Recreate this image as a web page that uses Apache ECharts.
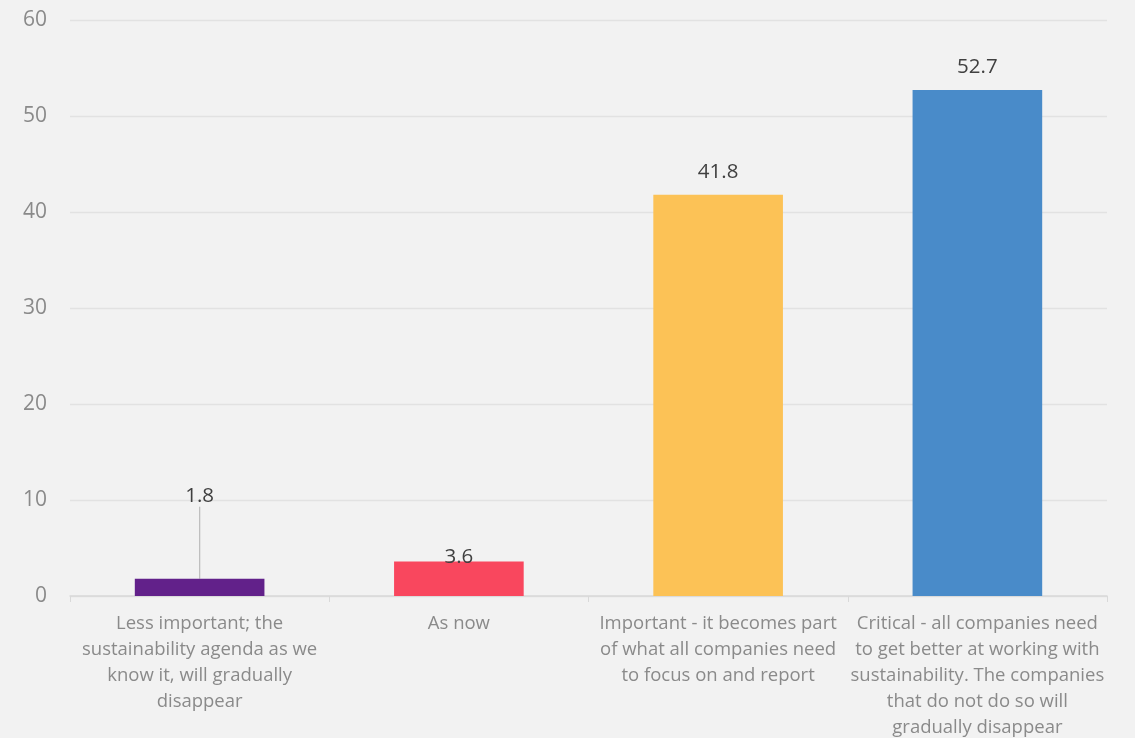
<!DOCTYPE html>
<html><head><meta charset="utf-8">
<script src="https://cdn.jsdelivr.net/npm/echarts@6/dist/echarts.min.js"></script>
<style>html,body{margin:0;padding:0;background:#f2f2f2;}#c{width:1135px;height:738px;}</style>
</head><body><div id="c"></div>
<script>
const categories = [
  "Less important; the\nsustainability agenda as we\nknow it, will gradually\ndisappear",
  "As now",
  "Important - it becomes part\nof what all companies need\nto focus on and report",
  "Critical - all companies need\nto get better at working with\nsustainability. The companies\nthat do not do so will\ngradually disappear"
];
const values = [1.8, 3.6, 41.8, 52.7];
const colors = ["#62218a", "#f9475e", "#fcc256", "#498bc9"];
const yTicks = [0, 10, 20, 30, 40, 50, 60];
const labelShift = [-60, 18, 0, 0];

const chart = echarts.init(document.getElementById('c'), null, {renderer: 'canvas'});
const data = values.map((v, i) => {
  const d = {value: v, itemStyle: {color: colors[i]}};
  if (i === 0) d.labelLine = {show: true, lineStyle: {color: '#bfbfbf', width: 1.3}};
  return d;
});
chart.setOption({
  backgroundColor: '#f2f2f2',
  animation: false,
  grid: {left: 70, right: 28, top: 20, bottom: 142, containLabel: false, outerBoundsMode: 'none'},
  xAxis: {
    type: 'category',
    data: categories,
    axisLine: {show: true, lineStyle: {color: '#d9d9d9', width: 1.5}},
    axisTick: {show: true, alignWithLabel: false, length: 6, lineStyle: {color: '#d9d9d9'}},
    axisLabel: {interval: 0, color: '#8a8a8a', fontFamily: 'Open Sans', fontSize: 18.5, lineHeight: 26, margin: 15}
  },
  yAxis: {
    type: 'value', min: yTicks[0], max: yTicks[yTicks.length - 1], interval: 10,
    axisLine: {show: false}, axisTick: {show: false},
    splitLine: {lineStyle: {color: '#e2e2e2', width: 1.3}},
    axisLabel: {color: '#8a8a8a', fontFamily: 'Open Sans', fontSize: 21, margin: 23}
  },
  series: [{
    type: 'bar',
    data: data,
    barWidth: '50%',
    label: {show: true, position: 'top', distance: 12, color: '#404040', fontFamily: 'Open Sans', fontSize: 20.5},
    labelLayout: function (p) { return {dy: labelShift[p.dataIndex]}; }
  }]
});
</script></body></html>
